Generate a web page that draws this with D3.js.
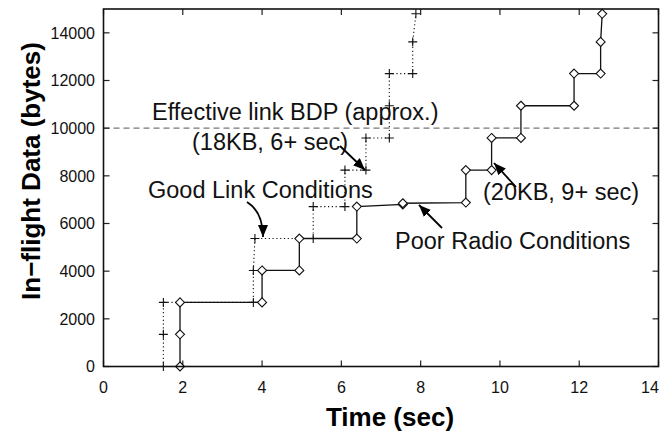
<!DOCTYPE html>
<html><head><meta charset="utf-8">
<script src="https://cdn.jsdelivr.net/npm/d3@7"></script>
<style>body{margin:0;background:#fff}svg{display:block}text{font-family:"Liberation Sans",Arial,Helvetica,sans-serif}</style>
</head><body>
<svg id="c" width="660" height="436"></svg>
<script>
// Good Link Conditions (dotted, "+")
const goodT = [1.51,1.51,1.51,3.78,3.78,3.82,5.29,5.29,6.09,6.09,6.62,6.62,7.21,7.21,7.21,7.80,7.80,7.88];
const goodV = [0,1350,2690,2690,4030,5370,5370,6710,6710,8240,8240,9590,9590,10940,12290,12290,13620,14800];
// Poor Radio Conditions (solid, diamonds)
const poorT = [1.93,1.93,1.93,4.00,4.00,4.94,4.94,6.39,6.39,7.55,7.55,9.14,9.14,9.79,9.79,10.53,10.53,11.87,11.87,12.54,12.54,12.58];
const poorV = [0,1350,2690,2690,4030,4030,5370,5370,6710,6800,6850,6880,8240,8240,9590,9590,10940,10940,12290,12290,13620,14800];
const bdp = 10000;
const xTicks = [0,2,4,6,8,10,12,14];
const yTicks = [0,2000,4000,6000,8000,10000,12000,14000];

const svg = d3.select("#c");
const x = d3.scaleLinear().domain([0,14]).range([103.5,658.5]);
const y = d3.scaleLinear().domain([0,15000]).range([366.5,9]);

// BDP dashed line
svg.append("line").attr("x1",x(0)).attr("x2",x(14)).attr("y1",y(bdp)).attr("y2",y(bdp))
  .attr("stroke","#777").attr("stroke-width",1.3).attr("stroke-dasharray","6,4");

// ticks (inward, all sides)
const tl = 6;
const g = svg.append("g").attr("stroke","#222").attr("stroke-width",1.2);
yTicks.forEach(v=>{
  g.append("line").attr("x1",x(0)).attr("x2",x(0)+tl).attr("y1",y(v)).attr("y2",y(v));
  g.append("line").attr("x1",x(14)).attr("x2",x(14)-tl).attr("y1",y(v)).attr("y2",y(v));
});
xTicks.forEach(v=>{
  g.append("line").attr("x1",x(v)).attr("x2",x(v)).attr("y1",y(0)).attr("y2",y(0)-tl);
  g.append("line").attr("x1",x(v)).attr("x2",x(v)).attr("y1",y(15000)).attr("y2",y(15000)+tl);
});

// tick labels
svg.selectAll(".yl").data(yTicks).enter().append("text")
  .attr("x",95).attr("y",d=>y(d)).attr("dy","0.36em").attr("text-anchor","end")
  .attr("font-size",16).attr("fill","#111").text(d=>d);
svg.selectAll(".xl").data(xTicks).enter().append("text")
  .attr("x",d=>Math.min(x(d),650)).attr("y",393).attr("text-anchor","middle")
  .attr("font-size",16).attr("fill","#111").text(d=>d);

// lines
const good = goodT.map((t,i)=>[t,goodV[i]]);
const poor = poorT.map((t,i)=>[t,poorV[i]]);
const line = d3.line().x(d=>x(d[0])).y(d=>y(d[1]));
svg.append("path").attr("d",line(good)).attr("fill","none").attr("stroke","#111")
  .attr("stroke-width",1.1).attr("stroke-dasharray","1.2,2.6");
svg.append("path").attr("d",line(poor)).attr("fill","none").attr("stroke","#111").attr("stroke-width",1.3);

// markers
const ps = 4.5;
svg.selectAll(".plus").data(good).enter().append("path")
  .attr("d",d=>{const cx=x(d[0]),cy=y(d[1]);return `M${cx-ps},${cy}H${cx+ps}M${cx},${cy-ps}V${cy+ps}`;})
  .attr("stroke","#111").attr("stroke-width",1.1).attr("fill","none");
const ds = 4.5;
svg.selectAll(".dia").data(poor).enter().append("path")
  .attr("d",d=>{const cx=x(d[0]),cy=y(d[1]);return `M${cx},${cy-ds}L${cx+ds},${cy}L${cx},${cy+ds}L${cx-ds},${cy}Z`;})
  .attr("stroke","#111").attr("stroke-width",1.1).attr("fill","#fff");

// frame
svg.append("rect").attr("x",x(0)).attr("y",y(15000)).attr("width",x(14)-x(0)).attr("height",y(0)-y(15000))
  .attr("fill","none").attr("stroke","#111").attr("stroke-width",1.6);

// annotations
const ann = svg.append("g").attr("font-size",23.5).attr("fill","#111");
ann.append("text").attr("x",152).attr("y",120).text("Effective link BDP (approx.)");
ann.append("text").attr("x",192).attr("y",150).text("(18KB, 6+ sec)");
ann.append("text").attr("x",148).attr("y",198).text("Good Link Conditions");
ann.append("text").attr("x",483).attr("y",200).text("(20KB, 9+ sec)");
ann.append("text").attr("x",395).attr("y",249).text("Poor Radio Conditions");

// arrows
const defs = svg.append("defs");
defs.append("marker").attr("id","ah").attr("viewBox","0 0 12 10").attr("refX",12).attr("refY",5)
  .attr("markerWidth",12).attr("markerHeight",10).attr("markerUnits","userSpaceOnUse").attr("orient","auto")
  .append("path").attr("d","M0,0L12,5L0,10Z").attr("fill","#000");
const arrows = [
  "M340,146L365,170",
  "M247,202Q263,212 263,237",
  "M516,187L494,163",
  "M442,228L419,205"
];
arrows.forEach(a=>svg.append("path").attr("d",a).attr("fill","none").attr("stroke","#000")
  .attr("stroke-width",1.8).attr("marker-end","url(#ah)"));

// axis titles
svg.append("text").attr("x",390).attr("y",426).attr("text-anchor","middle")
  .attr("font-size",26).attr("font-weight","bold").attr("fill","#000").text("Time (sec)");
svg.append("text").attr("transform","translate(40,171) rotate(-90)").attr("text-anchor","middle")
  .attr("font-size",26).attr("font-weight","bold").attr("fill","#000").text("In\u2212flight Data (bytes)");
</script>
</body></html>
